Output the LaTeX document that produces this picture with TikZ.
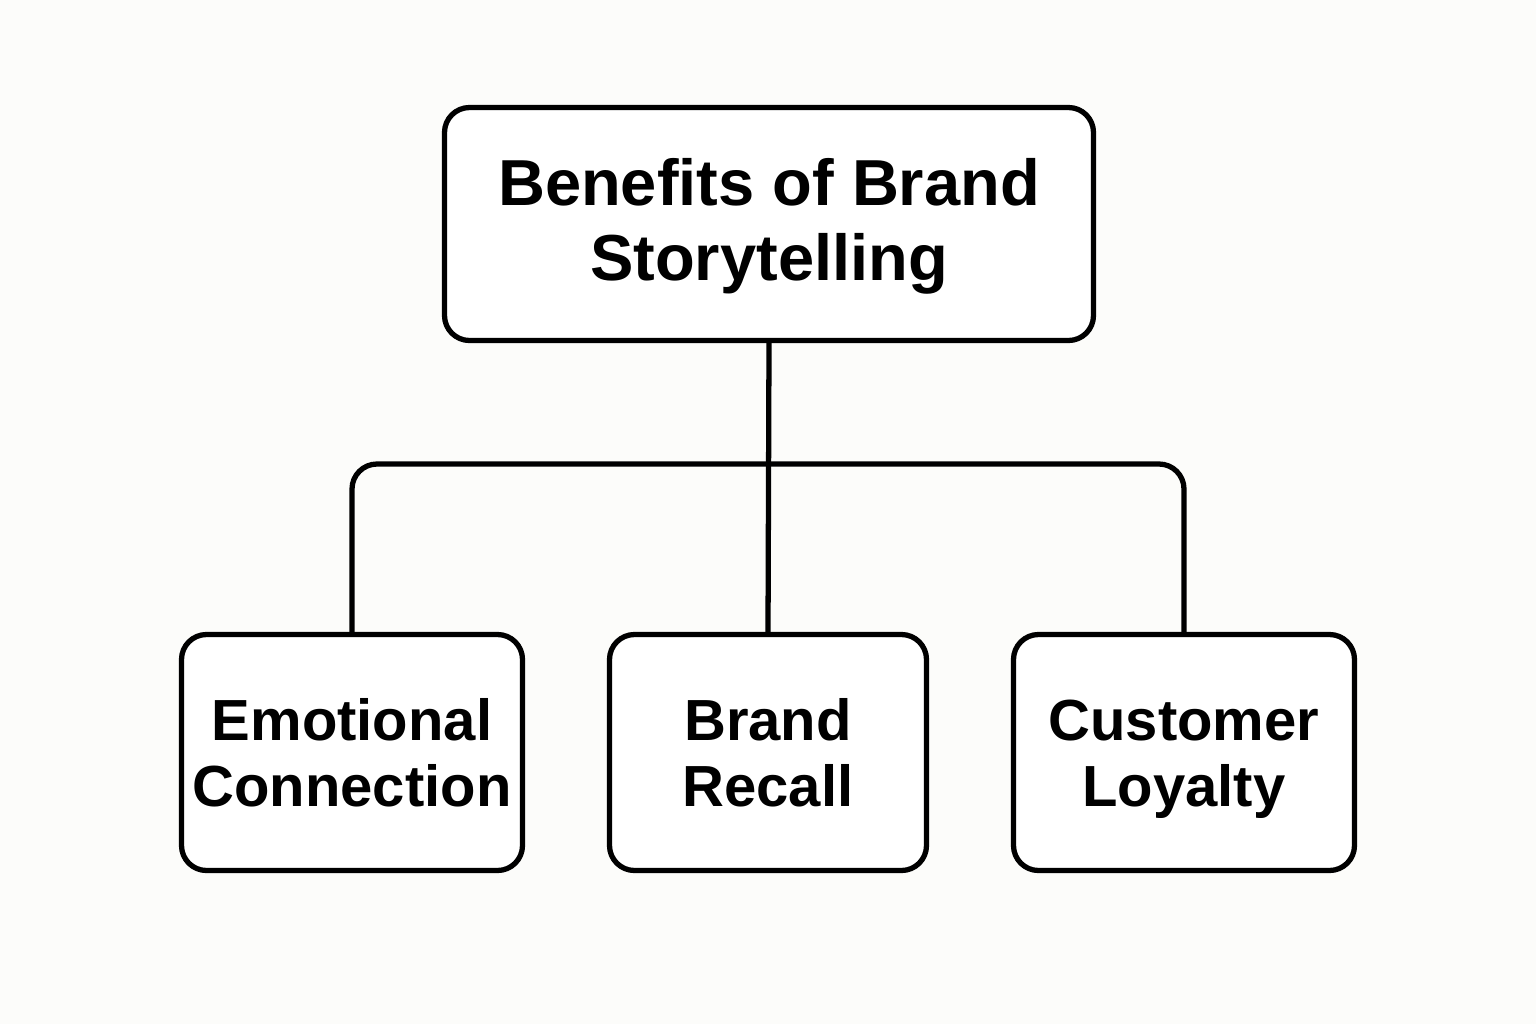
\documentclass[tikz,border=0pt]{standalone}
\usepackage{fontspec}
\setmainfont{Liberation Sans}
\usepackage{tikz}
\definecolor{paper}{RGB}{252,252,250}
\newcommand{\tall}{\rule{0pt}{15.5pt}}
\newcommand{\deep}{\vphantom{y}}

\begin{document}
\begin{tikzpicture}[
		box/.style = {draw, line width=1.5pt, rounded corners=.25cm, fill=white, inner sep=0pt, align=center, font=\bfseries\fontsize{16.5}{18.7}\selectfont},
		link/.style = {line width=1.5pt, rounded corners=.25cm}
	]
	\fill[paper] (0,0) rectangle (15.36,-10.24);
	\useasboundingbox (0,0) rectangle (15.36,-10.24);
	% top node
	\node[box, minimum width=6.49cm, minimum height=2.33cm, font=\bfseries\fontsize{18.5}{21.3}\selectfont] (benefits) at (7.69,-2.24) {\strut Benefits of Brand\\Storytelling};
	% benefits
	\node[box, minimum width=3.41cm, minimum height=2.36cm] (emotion) at (3.52,-7.525) {\tall Emotional\\Connection\deep};
	\node[box, minimum width=3.17cm, minimum height=2.36cm] (recall) at (7.68,-7.525) {\tall Brand\\Recall\deep};
	\node[box, minimum width=3.41cm, minimum height=2.36cm] (loyalty) at (11.84,-7.525) {\tall Customer\\Loyalty\deep};
	\coordinate (bar) at (7.68,-4.64);
	\draw[link] (benefits.south) -- (recall.north);
	\draw[link] (emotion.north) |- (bar) -| (loyalty.north);
\end{tikzpicture}
\end{document}
